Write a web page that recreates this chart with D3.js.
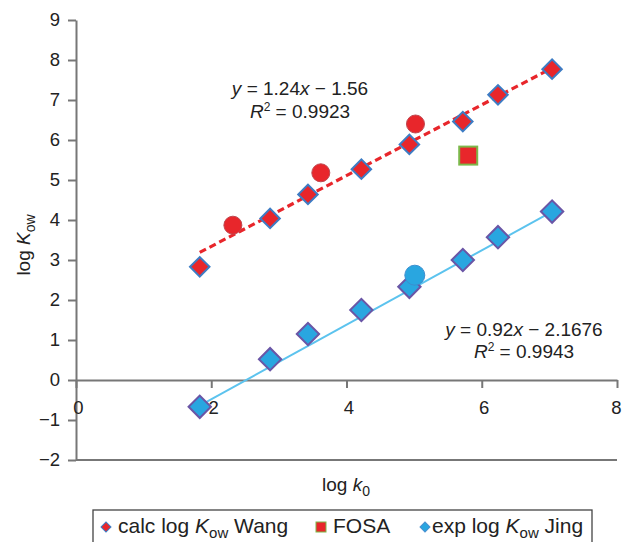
<!DOCTYPE html>
<html>
<head>
<meta charset="utf-8">
<script src="https://cdn.jsdelivr.net/npm/d3@7"></script>
<style>
  body { margin: 0; background: #fff; }
  svg { font-family: "Liberation Sans", Arial, sans-serif; }
</style>
</head>
<body>
<script>
const width = 622;
const height = 542;

// calc log Kow (Wang), diamonds
const calcX = [1.83, 2.87, 3.43, 4.22, 4.93, 5.72, 6.24, 7.04];
const calcY = [2.83, 4.04, 4.64, 5.27, 5.89, 6.46, 7.13, 7.77];
// extra red circles
const calcCircX = [2.32, 3.62, 5.02];
const calcCircY = [3.87, 5.18, 6.40];
// FOSA
const fosaX = [5.80];
const fosaY = [5.61];
// exp log Kow (Jing), diamonds
const expX = [1.83, 2.87, 3.43, 4.22, 4.93, 5.72, 6.24, 7.04];
const expY = [-0.67, 0.52, 1.15, 1.75, 2.33, 3.00, 3.57, 4.21];
const expCircX = [5.01];
const expCircY = [2.62];
// trend line ends as drawn
const calcTrend = [[1.83, 3.19], [7.04, 7.80]];
const expTrend = [[1.83, -0.64], [7.04, 4.21]];

const xTicks = [0, 2, 4, 6, 8];
const yTicks = [-2, -1, 0, 1, 2, 3, 4, 5, 6, 7, 8, 9];

const red = '#e8262b';
const blueFill = '#29a6e0';

const svg = d3.select('body')
  .append('svg')
  .attr('width', width)
  .attr('height', height);

const xScale = d3.scaleLinear().domain([0, 8]).range([76, 617]);
const yScale = d3.scaleLinear().domain([-2, 9]).range([460, 20]);

const fmt = d => (d < 0 ? '\u2212' + Math.abs(d) : '' + d);

// frame bottom line
svg.append('line')
  .attr('x1', xScale(0)).attr('x2', xScale(8))
  .attr('y1', yScale(-2)).attr('y2', yScale(-2))
  .attr('stroke', '#777').attr('stroke-width', 2);

const yAxis = svg.append('g')
  .attr('transform', `translate(${xScale(0)},0)`)
  .call(d3.axisLeft(yScale).tickValues(yTicks).tickFormat(fmt).tickSize(8).tickSizeOuter(0).tickPadding(8));

const xAxis = svg.append('g')
  .attr('transform', `translate(0,${yScale(0)})`)
  .call(d3.axisBottom(xScale).tickValues(xTicks).tickFormat(fmt).tickSize(8).tickSizeOuter(0));

[yAxis, xAxis].forEach(g => {
  g.select('.domain').attr('stroke', '#777').attr('stroke-width', 2);
  g.selectAll('.tick line').attr('stroke', '#777').attr('stroke-width', 2);
  g.selectAll('.tick text').attr('fill', '#222').attr('font-size', 18.5)
    .attr('font-family', '"Liberation Sans", Arial, sans-serif');
});
xAxis.selectAll('.tick text').attr('y', 21).attr('dx', d => (d === 8 ? -1 : 2));

// axis titles
const yTitle = svg.append('text')
  .attr('transform', `translate(30,245) rotate(-90)`)
  .attr('text-anchor', 'middle')
  .attr('font-size', 19).attr('fill', '#222');
yTitle.append('tspan').text('log ');
yTitle.append('tspan').attr('font-style', 'italic').text('K');
yTitle.append('tspan').attr('font-size', 14).attr('dy', 5).text('ow');

const xTitle = svg.append('text')
  .attr('x', 346).attr('y', 491)
  .attr('text-anchor', 'middle')
  .attr('font-size', 19).attr('fill', '#222');
xTitle.append('tspan').text('log ');
xTitle.append('tspan').attr('font-style', 'italic').text('k');
xTitle.append('tspan').attr('font-size', 14).attr('dy', 5).text('0');

// trend lines
const line = d3.line().x(d => xScale(d[0])).y(d => yScale(d[1]));
svg.append('path')
  .attr('d', line(expTrend))
  .attr('fill', 'none').attr('stroke', '#5cc3ee').attr('stroke-width', 2);
svg.append('path')
  .attr('d', line(calcTrend))
  .attr('fill', 'none').attr('stroke', red).attr('stroke-width', 3.2)
  .attr('stroke-dasharray', '7,4');

const square = d3.symbol().type(d3.symbolSquare);

// calc diamonds
svg.selectAll('.calc')
  .data(d3.zip(calcX, calcY))
  .enter().append('path')
  .attr('class', 'calc')
  .attr('d', square.size(190)())
  .attr('transform', d => `translate(${xScale(d[0])},${yScale(d[1])}) rotate(45)`)
  .attr('fill', red).attr('stroke', '#3d7cc4').attr('stroke-width', 2);

svg.selectAll('.calcCirc')
  .data(d3.zip(calcCircX, calcCircY))
  .enter().append('circle')
  .attr('class', 'calcCirc')
  .attr('cx', d => xScale(d[0])).attr('cy', d => yScale(d[1]))
  .attr('r', 9)
  .attr('fill', red).attr('stroke', '#c0474f').attr('stroke-width', 1);

// FOSA
svg.selectAll('.fosa')
  .data(d3.zip(fosaX, fosaY))
  .enter().append('rect')
  .attr('class', 'fosa')
  .attr('x', d => xScale(d[0]) - 9).attr('y', d => yScale(d[1]) - 9)
  .attr('width', 18).attr('height', 18)
  .attr('fill', red).attr('stroke', '#7cb84a').attr('stroke-width', 2);

// exp diamonds
svg.selectAll('.exp')
  .data(d3.zip(expX, expY))
  .enter().append('path')
  .attr('class', 'exp')
  .attr('d', square.size(250)())
  .attr('transform', d => `translate(${xScale(d[0])},${yScale(d[1])}) rotate(45)`)
  .attr('fill', blueFill).attr('stroke', '#6a56a6').attr('stroke-width', 2);

svg.selectAll('.expCirc')
  .data(d3.zip(expCircX, expCircY))
  .enter().append('circle')
  .attr('class', 'expCirc')
  .attr('cx', d => xScale(d[0])).attr('cy', d => yScale(d[1]))
  .attr('r', 10)
  .attr('fill', blueFill).attr('stroke', '#3b8fd0').attr('stroke-width', 1);

// equations
function equation(x, y, gap, slope, icpt, r2) {
  const t1 = svg.append('text').attr('x', x).attr('y', y)
    .attr('text-anchor', 'middle').attr('font-size', 19).attr('fill', '#222');
  t1.append('tspan').attr('font-style', 'italic').text('y');
  t1.append('tspan').text(` = ${slope}`);
  t1.append('tspan').attr('font-style', 'italic').text('x');
  t1.append('tspan').text(` \u2212 ${icpt}`);
  const t2 = svg.append('text').attr('x', x).attr('y', y + gap)
    .attr('text-anchor', 'middle').attr('font-size', 19).attr('fill', '#222');
  t2.append('tspan').attr('font-style', 'italic').text('R');
  t2.append('tspan').attr('font-size', 12).attr('dy', -7).text('2');
  t2.append('tspan').attr('dy', 7).text(` = ${r2}`);
}
equation(300, 95, 23, '1.24', '1.56', '0.9923');
equation(524, 336, 22, '0.92', '2.1676', '0.9943');

// legend
const lg = svg.append('g');
lg.append('rect')
  .attr('x', 93).attr('y', 510).attr('width', 499).attr('height', 40)
  .attr('fill', '#fff').attr('stroke', '#444').attr('stroke-width', 1.3);

const legendItems = [
  { x: 106, tx: 118, kind: 'diamond', fill: red, stroke: '#3d7cc4', pre: 'calc log ', post: ' Wang' },
  { x: 321, tx: 333, kind: 'square', fill: red, stroke: '#7cb84a', pre: 'FOSA' },
  { x: 425, tx: 432, kind: 'diamond', fill: blueFill, stroke: '#4a90d0', pre: 'exp log ', post: ' Jing' }
];
legendItems.forEach(it => {
  if (it.kind === 'diamond') {
    lg.append('path')
      .attr('d', square.size(50)())
      .attr('transform', `translate(${it.x},527) rotate(45)`)
      .attr('fill', it.fill).attr('stroke', it.stroke).attr('stroke-width', 1);
  } else {
    lg.append('rect')
      .attr('x', it.x - 5).attr('y', 522).attr('width', 10).attr('height', 10)
      .attr('fill', it.fill).attr('stroke', it.stroke).attr('stroke-width', 1);
  }
  const t = lg.append('text').attr('x', it.tx).attr('y', 533)
    .attr('font-size', 21).attr('fill', '#222');
  t.append('tspan').text(it.pre);
  if (it.post) {
    t.append('tspan').attr('font-style', 'italic').text('K');
    t.append('tspan').attr('font-size', 15).attr('dy', 5).text('ow');
    t.append('tspan').attr('dy', -5).text(it.post);
  }
});
</script>
</body>
</html>
